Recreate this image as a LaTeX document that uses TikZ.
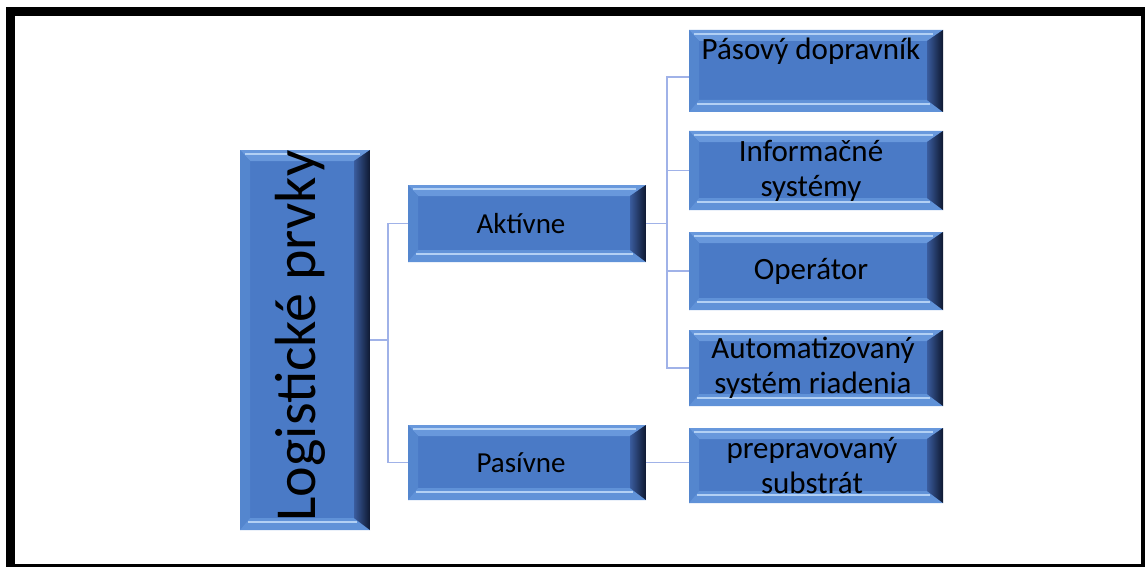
\documentclass[tikz,border=0pt]{standalone}
\usepackage{fontspec}
\setmainfont{Carlito}
\definecolor{face}{RGB}{74,122,198}
\definecolor{bevtop}{RGB}{104,152,220}
\definecolor{bevleft}{RGB}{84,134,206}
\definecolor{bevbot}{RGB}{96,146,216}
\definecolor{hilite}{RGB}{178,208,244}
\definecolor{darkr}{RGB}{14,24,48}
\definecolor{midr}{RGB}{58,92,158}
\definecolor{conn}{RGB}{160,178,232}
\tikzset{
 bev/.style={rectangle, inner sep=0pt, fill=face, draw=none, align=center,
  font=\fontsize{29}{34}\selectfont, text=black,
  path picture={
   \coordinate (nw) at (path picture bounding box.north west);
   \coordinate (se) at (path picture bounding box.south east);
   \coordinate (ne) at (se |- nw);
   \coordinate (sw) at (nw |- se);
   \fill[bevtop] (nw) -- (ne) -- ([xshift=-16pt,yshift=-11pt]ne) -- ([xshift=10pt,yshift=-11pt]nw) -- cycle;
   \fill[bevleft] (nw) -- ([xshift=10pt,yshift=-11pt]nw) -- ([xshift=10pt,yshift=12pt]sw) -- (sw) -- cycle;
   \fill[bevbot] (sw) -- ([xshift=10pt,yshift=12pt]sw) -- ([xshift=-16pt,yshift=12pt]se) -- (se) -- cycle;
   \shade[left color=midr,right color=darkr] (ne) -- (se) -- ([xshift=-16pt,yshift=12pt]se) -- ([xshift=-16pt,yshift=-11pt]ne) -- cycle;
   \draw[hilite,line width=1.6pt] ([xshift=5pt,yshift=-4pt]nw) -- ([xshift=-10pt,yshift=-4pt]ne);
   \draw[hilite,line width=1.6pt] ([xshift=8pt,yshift=8pt]sw) -- ([xshift=-13pt,yshift=8pt]se);
  }},
 rbox/.style={bev, minimum width=254pt, font=\fontsize{31}{35}\selectfont},
 connline/.style={draw=conn, line width=1.6pt}
}
\begin{document}
\begin{tikzpicture}[x=1pt,y=-1pt]
\useasboundingbox (0,0) rectangle (1145,567);
\fill[white] (0,0) rectangle (1145,567);
\fill[black] (6,7) rectangle (1145,567);
\fill[white] (15,16) rectangle (1141,564);

\node[bev, minimum width=130pt, minimum height=380pt] (main) at (305,340) {};
\node[rotate=90, font=\fontsize{58}{60}\selectfont, text=black, inner sep=0pt] (mainlbl) at (300,336) {Logistické prvky};

\node[bev, minimum width=238pt, minimum height=77pt] (akt) at (527,223.5) {Aktívne\hspace*{12pt}};
\node[bev, minimum width=238pt, minimum height=75pt] (pas) at (527,462.5) {Pasívne\hspace*{12pt}};

\node[rbox, minimum height=82pt] (r1) at (816,71) {Pásový dopravník\hspace*{10pt}\\ \strut};
\node[rbox, minimum height=79pt] (r2) at (816,170.5) {Informačné\hspace*{10pt}\\systémy\hspace*{10pt}};
\node[rbox, minimum height=78pt] (r3) at (816,271) {Operátor\hspace*{10pt}};
\node[rbox, minimum height=76pt] (r4) at (816,368) {Automatizovaný\hspace*{6pt}\\systém riadenia\hspace*{6pt}};
\node[rbox, minimum height=75pt] (r5) at (816,465.5) {prepravovaný\hspace*{8pt}\\substrát\hspace*{8pt}};

\draw[connline] (main.east) -- ++(18,0) |- (akt.west);
\draw[connline] (main.east) -- ++(18,0) |- (pas.west);
\draw[connline] (akt.east) -- ++(21,0) |- ([yshift=-6pt]r1.west);
\draw[connline] (akt.east) -- ++(21,0) |- (r2.west);
\draw[connline] (akt.east) -- ++(21,0) |- (r3.west);
\draw[connline] (akt.east) -- ++(21,0) |- (r4.west);
\draw[connline] (pas.east) -- (pas.east -| r5.west);
\end{tikzpicture}
\end{document}
